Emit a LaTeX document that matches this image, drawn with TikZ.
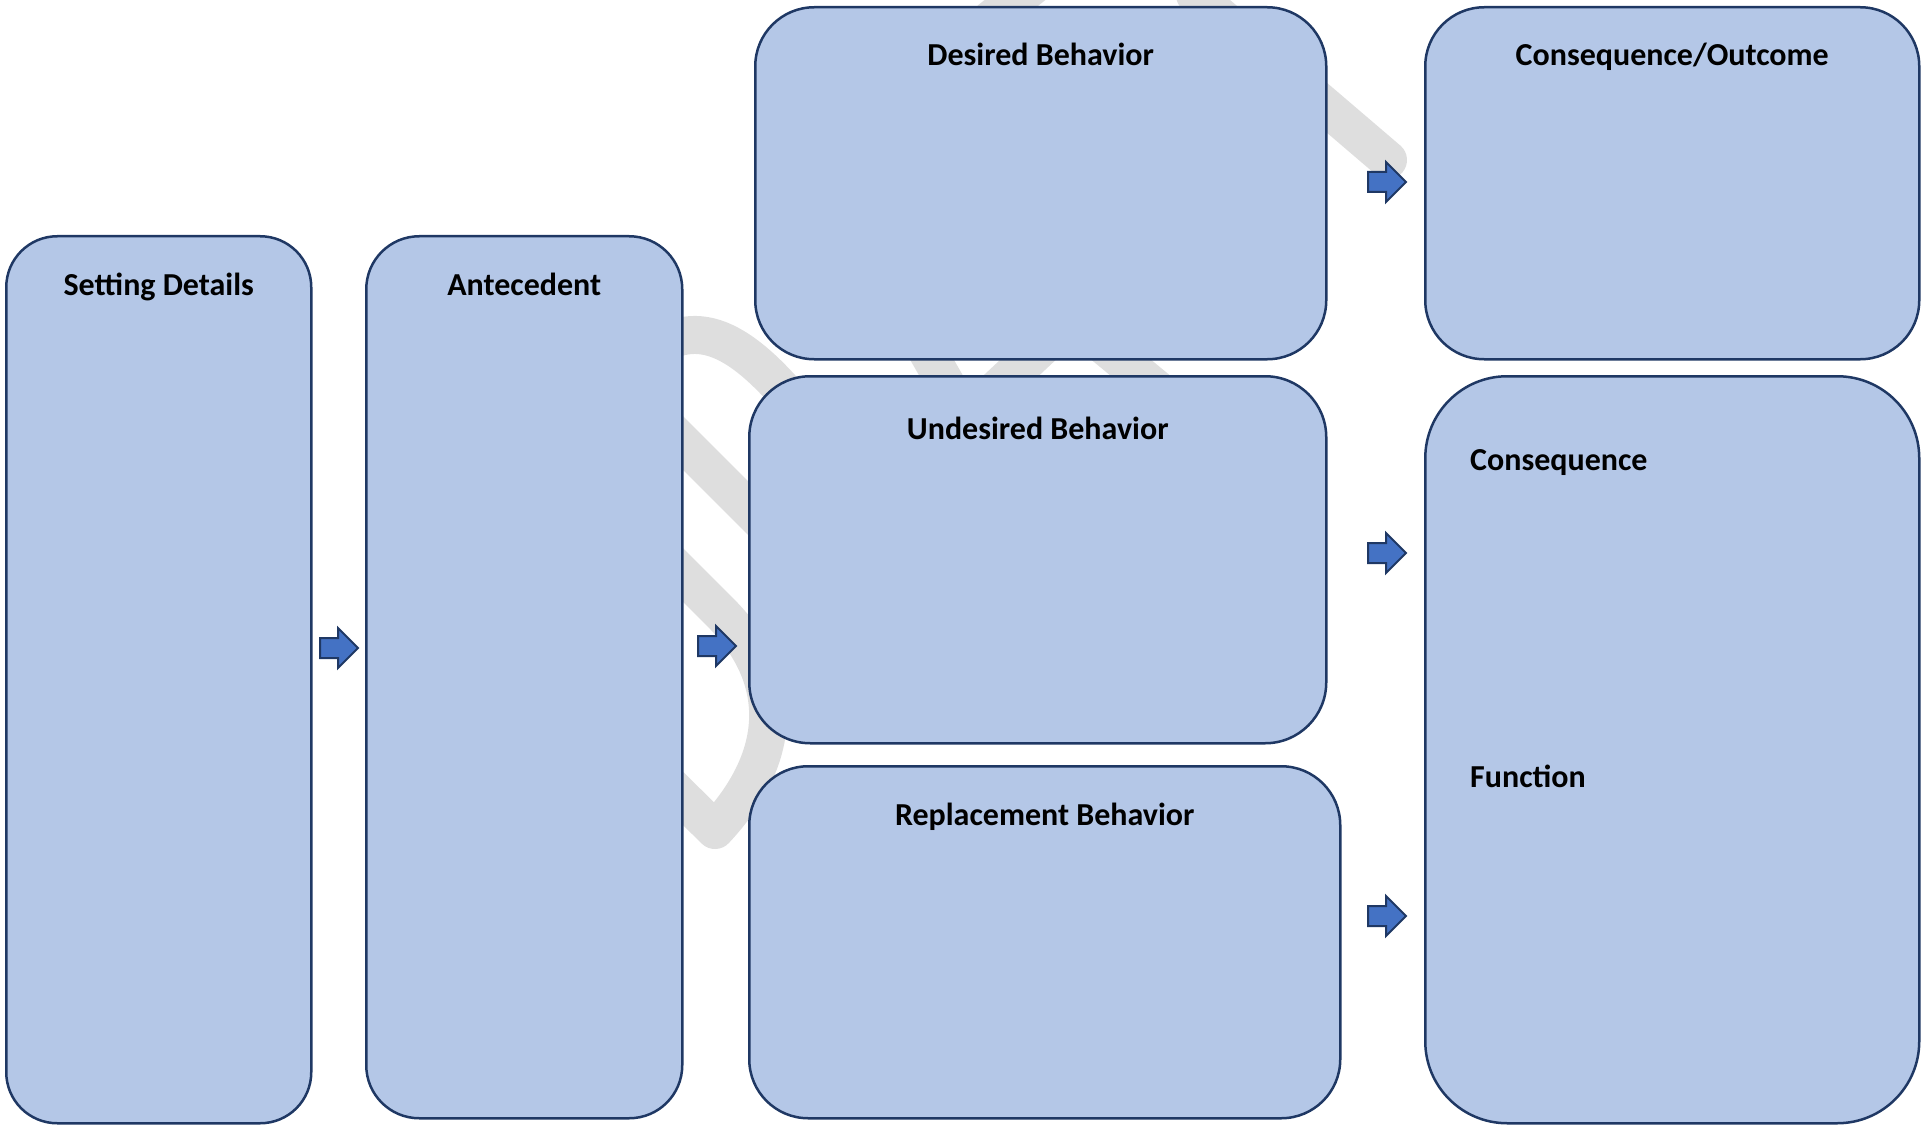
\documentclass[tikz,border=0pt]{standalone}
\usepackage{fontspec}
\setmainfont{Carlito}
\usepackage{xcolor}
\usetikzlibrary{calc,shapes.arrows}
\definecolor{boxblue}{HTML}{B4C7E7}
\definecolor{boxline}{HTML}{1F3864}
\definecolor{arrowblue}{HTML}{4472C4}
\definecolor{markgray}{HTML}{DEDEDE}

\tikzset{
  card/.style={draw=boxline, line width=2.5pt, fill=boxblue, inner sep=0pt, anchor=north west},
  cardtitle/.style={font=\bfseries\fontsize{32}{38}\selectfont, anchor=base, inner sep=0pt},
  flowarrow/.style={single arrow, draw=boxline, line width=2pt, fill=arrowblue,
    minimum height=38pt, inner xsep=0pt, inner ysep=9pt, single arrow head extend=10pt,
    single arrow tip angle=90, anchor=tail},
  wmark/.style={draw=markgray, line width=38pt, line cap=round, line join=round}
}

\begin{document}
\begin{tikzpicture}[x=1pt, y=-1pt]
    % frame
    \useasboundingbox (0,0) rectangle (1923,1126);
    \clip (0,0) rectangle (1923,1126);

    % watermark behind the boxes
    \draw[wmark] (640,360) .. controls (690,315) and (735,330) .. (800,410);
    \draw[wmark] (630,390) -- (800,560);
    \draw[wmark] (630,522) -- (720,612) .. controls (785,677) and (785,755) .. (715,830) -- (640,756);
    \draw[wmark] (1195,-5) -- (1388,160);
    \draw[wmark] (1040,-20) -- (990,20);
    \draw[wmark] (915,330) -- (955,400);
    \draw[wmark] (1060,330) -- (985,400);
    \draw[wmark] (1085,330) -- (1170,400);

    % boxes
    \node[card, rounded corners=51pt, minimum width=305pt, minimum height=887pt] (setting) at (5,235) {};
    \node[card, rounded corners=53pt, minimum width=316pt, minimum height=882pt] (antecedent) at (365,235) {};
    \node[card, rounded corners=59pt, minimum width=571pt, minimum height=352pt] (desired) at (754,6) {};
    \node[card, rounded corners=61pt, minimum width=577pt, minimum height=367pt] (undesired) at (748,375) {};
    \node[card, rounded corners=59pt, minimum width=591pt, minimum height=352pt] (replacement) at (748,765) {};
    \node[card, rounded corners=59pt, minimum width=494pt, minimum height=352pt] (outcome) at (1424,6) {};
    \node[card, rounded corners=82pt, minimum width=494pt, minimum height=747pt] (function) at (1424,375) {};

    % arrows between the columns
    \node[flowarrow] (arrA) at (319,648) {};
    \node[flowarrow] (arrB) at (697,646) {};
    \node[flowarrow] (arrC) at (1367,182) {};
    \node[flowarrow] (arrD) at (1367,553) {};
    \node[flowarrow] (arrE) at (1367,916) {};

    % titles
    \node[cardtitle] (settingT) at ($(setting.north)+(0,60)$) {Setting Details};
    \node[cardtitle] (antecedentT) at ($(antecedent.north)+(0,60)$) {Antecedent};
    \node[cardtitle] (desiredT) at ($(desired.north)+(0,60)$) {Desired Behavior};
    \node[cardtitle] (undesiredT) at ($(undesired.north)+(0,64)$) {Undesired Behavior};
    \node[cardtitle] (replacementT) at ($(replacement.north)+(0,60)$) {Replacement Behavior};
    \node[cardtitle] (outcomeT) at ($(outcome.north)+(0,60)$) {Consequence/Outcome};
    \node[cardtitle, anchor=base west] (consequenceT) at ($(function.north west)+(46,95)$) {Consequence};
    \node[cardtitle, anchor=base west] (functionT) at ($(function.north west)+(46,412)$) {Function};
\end{tikzpicture}
\end{document}
